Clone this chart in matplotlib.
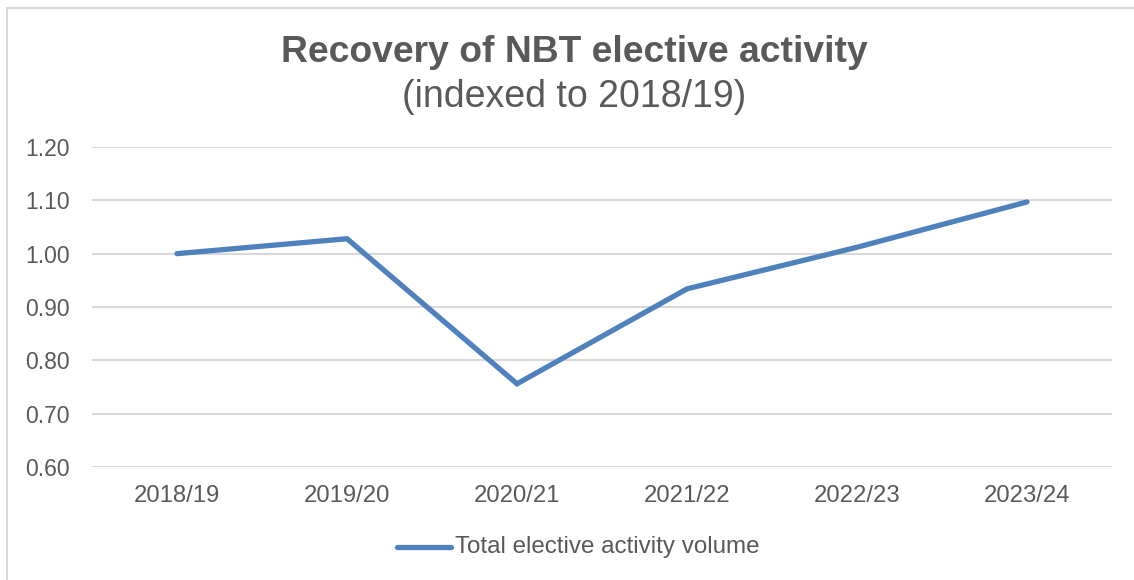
import matplotlib
matplotlib.use("Agg")
import matplotlib.pyplot as plt
from matplotlib.patches import Rectangle
from matplotlib.lines import Line2D

categories = ["2018/19", "2019/20", "2020/21", "2021/22", "2022/23", "2023/24"]
values = [1.00, 1.028, 0.756, 0.934, 1.012, 1.097]
yticks = [0.60, 0.70, 0.80, 0.90, 1.00, 1.10, 1.20]
series_name = "Total elective activity volume"
title = "Recovery of NBT elective activity"
subtitle = "(indexed to 2018/19)"

plt.rcParams['font.family'] = ['Liberation Sans', 'DejaVu Sans']
TXT = "#595959"
GRID = "#d9d9d9"
LINE = "#4f81bd"

W, H = 1134, 580
fig = plt.figure(figsize=(W / 100, H / 100), dpi=100)
fig.patch.set_facecolor("white")

# outer chart border (extends beyond right/bottom)
fig.add_artist(Rectangle((7 / W, -0.1), 1.2, 1 - 8 / H + 0.1, transform=fig.transFigure,
                         fill=False, edgecolor=GRID, linewidth=1.5))

ax = fig.add_axes([92 / W, 1 - 467 / H, (1112 - 92) / W, (467 - 147) / H])
x = list(range(len(categories)))
ax.plot(x, values, color=LINE, linewidth=3.8, solid_capstyle="round",
        solid_joinstyle="miter", zorder=3)
ax.set_xlim(-0.5, len(categories) - 0.5)
ax.set_ylim(0.60, 1.20)
ax.set_yticks(yticks)
ax.set_yticklabels([f"{v:.2f}" for v in yticks])
ax.set_xticks(x)
ax.set_xticklabels(categories)
ax.tick_params(axis="y", length=0, pad=16, labelsize=16.5, labelcolor=TXT)
ax.tick_params(axis="x", length=0, pad=13, labelsize=17.2, labelcolor=TXT)
ax.grid(axis="y", color=GRID, linewidth=1.5, zorder=0)
for s in ax.spines.values():
    s.set_visible(False)

fig.text(574 / W, 1 - 53 / H, title, ha="center", va="center", fontsize=26.8,
         fontweight="bold", color=TXT)
fig.text(574 / W, 1 - 97 / H, subtitle, ha="center", va="center", fontsize=27,
         color=TXT)

# legend
fig.add_artist(Line2D([397 / W, 451 / W], [1 - 547 / H, 1 - 547 / H], transform=fig.transFigure,
                      color=LINE, linewidth=3.8, solid_capstyle="round"))
fig.text(455 / W, 1 - 547 / H, series_name, ha="left", va="center", fontsize=17.4, color=TXT)

fig.savefig("out.png", dpi=100, facecolor="white")
